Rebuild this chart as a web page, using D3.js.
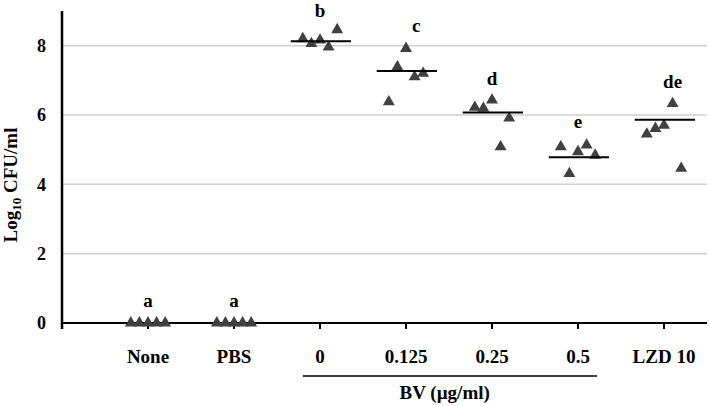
<!DOCTYPE html>
<html>
<head>
<meta charset="utf-8">
<script src="https://cdn.jsdelivr.net/npm/d3@7"></script>
<style>
  body { margin: 0; background: #fff; }
  svg { display: block; font-family: "Liberation Serif", "Times New Roman", serif; font-weight: bold; }
</style>
</head>
<body>
<div id="chart"></div>
<script>
// categories along the x axis (positions 1..7)
const categories = ['None', 'PBS', '0', '0.125', '0.25', '0.5', 'LZD 10'];
// five replicates per group, listed left to right within the group
const values = [
  [0, 0, 0, 0, 0],
  [0, 0, 0, 0, 0],
  [8.20, 8.06, 8.16, 7.96, 8.46],
  [6.38, 7.39, 7.92, 7.10, 7.20],
  [6.22, 6.19, 6.43, 5.08, 5.91],
  [5.08, 4.31, 4.94, 5.13, 4.84],
  [5.45, 5.61, 5.70, 6.33, 4.46]
];
const jitter = [-0.2, -0.1, 0, 0.1, 0.2];
// mean bars (null = none drawn)
const means = [null, null, 8.13, 7.27, 6.07, 4.78, 5.86];
// significance letters
const letters = ['a', 'a', 'b', 'c', 'd', 'e', 'de'];
const letterY = [0.47, 0.47, 8.83, 8.39, 6.86, 5.62, 6.77];
const letterDx = [0, 0, 0, 0.12, 0, 0, 0.1];
const yTicks = [0, 2, 4, 6, 8];

const width = 709, height = 406;
const svg = d3.select('#chart').append('svg')
  .attr('width', width)
  .attr('height', height);

const x = d3.scaleLinear().domain([0, 7.5]).range([62, 707]);
const y = d3.scaleLinear().domain([0, 9]).range([323, 11]);

// gridlines
svg.append('g')
  .selectAll('line')
  .data(yTicks.filter(d => d > 0))
  .join('line')
  .attr('x1', x(0)).attr('x2', x(7.5))
  .attr('y1', d => y(d)).attr('y2', d => y(d))
  .attr('stroke', '#cfcfcf')
  .attr('stroke-width', 1.5);

// y tick labels
svg.append('g')
  .selectAll('text')
  .data(yTicks)
  .join('text')
  .attr('x', 46)
  .attr('y', d => y(d))
  .attr('dy', '0.35em')
  .attr('text-anchor', 'end')
  .attr('font-size', 18)
  .text(d => d);

// y axis title
const yt = svg.append('text')
  .attr('transform', `translate(17,185) rotate(-90)`)
  .attr('text-anchor', 'middle')
  .attr('font-size', 19);
yt.append('tspan').text('Log');
yt.append('tspan').attr('font-size', 13).attr('dy', 4).text('10');
yt.append('tspan').attr('dy', -4).text(' CFU/ml');

// x axis with ticks below
svg.append('g')
  .selectAll('line')
  .data(categories)
  .join('line')
  .attr('x1', (d, i) => x(i + 1)).attr('x2', (d, i) => x(i + 1))
  .attr('y1', y(0)).attr('y2', y(0) + 6)
  .attr('stroke', '#000')
  .attr('stroke-width', 2);

svg.append('line')
  .attr('x1', x(0) - 1).attr('x2', x(7.5))
  .attr('y1', y(0)).attr('y2', y(0))
  .attr('stroke', '#000').attr('stroke-width', 2);

svg.append('line')
  .attr('x1', x(0)).attr('x2', x(0))
  .attr('y1', y(9)).attr('y2', y(0) + 6)
  .attr('stroke', '#000').attr('stroke-width', 2.5);

// category labels
svg.append('g')
  .selectAll('text')
  .data(categories)
  .join('text')
  .attr('x', (d, i) => x(i + 1))
  .attr('y', 363)
  .attr('text-anchor', 'middle')
  .attr('font-size', 19)
  .text(d => d);

// BV bracket
svg.append('line')
  .attr('x1', x(2.8)).attr('x2', x(6.22))
  .attr('y1', 376).attr('y2', 376)
  .attr('stroke', '#000').attr('stroke-width', 1.5);

svg.append('text')
  .attr('x', x(4.45))
  .attr('y', 399)
  .attr('text-anchor', 'middle')
  .attr('font-size', 19)
  .text('BV (µg/ml)');

// points
const pts = [];
values.forEach((vals, i) => vals.forEach((v, j) => pts.push({ cx: i + 1 + jitter[j], v })));
const tri = d3.symbol().type(d3.symbolTriangle).size(62);
svg.append('g')
  .selectAll('path')
  .data(pts)
  .join('path')
  .attr('d', tri)
  .attr('transform', d => `translate(${x(d.cx)},${y(d.v)})`)
  .attr('fill', '#404040');

// mean bars
svg.append('g')
  .selectAll('line')
  .data(means.map((m, i) => ({ m, i })).filter(d => d.m !== null))
  .join('line')
  .attr('x1', d => x(d.i + 1 - 0.34)).attr('x2', d => x(d.i + 1 + 0.36))
  .attr('y1', d => y(d.m)).attr('y2', d => y(d.m))
  .attr('stroke', '#000')
  .attr('stroke-width', 2);

// letters
svg.append('g')
  .selectAll('text')
  .data(letters)
  .join('text')
  .attr('x', (d, i) => x(i + 1 + letterDx[i]))
  .attr('y', (d, i) => y(letterY[i]))
  .attr('text-anchor', 'middle')
  .attr('font-size', 19)
  .text(d => d);
</script>
</body>
</html>
